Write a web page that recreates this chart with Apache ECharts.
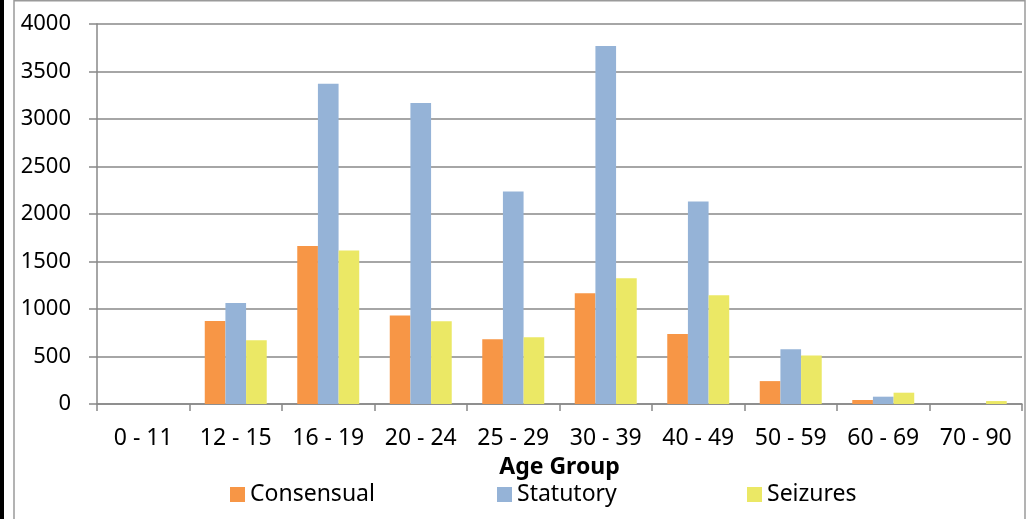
<!DOCTYPE html>
<html>
<head>
<meta charset="utf-8">
<script src="https://cdn.jsdelivr.net/npm/echarts@6/dist/echarts.min.js"></script>
<style>
  html, body { margin: 0; padding: 0; background: #ffffff; }
  #chart { width: 1031px; height: 519px; }
</style>
</head>
<body>
<div id="chart"></div>
<script>
// Age groups along the category axis
const ageGroups = ['0 - 11', '12 - 15', '16 - 19', '20 - 24', '25 - 29', '30 - 39', '40 - 49', '50 - 59', '60 - 69', '70 - 90'];

// Counts per age group
const consensual = [0, 875, 1662, 931, 682, 1165, 738, 241, 42, 0];
const statutory  = [0, 1062, 3370, 3168, 2236, 3769, 2131, 577, 77, 0];
const seizures   = [0, 672, 1617, 871, 703, 1323, 1144, 511, 119, 31];

const yTicks = [0, 500, 1000, 1500, 2000, 2500, 3000, 3500, 4000];

const FONT = '"Noto Sans", "Liberation Sans", sans-serif';
const GRID_GREY = '#888888';

const seriesDefs = [
  { name: 'Consensual', data: consensual, color: '#F79646', legendLeft: 230 },
  { name: 'Statutory',  data: statutory,  color: '#95B3D7', legendLeft: 497 },
  { name: 'Seizures',   data: seizures,   color: '#EBE865', legendLeft: 747 }
];

const chart = echarts.init(document.getElementById('chart'), null, { renderer: 'canvas' });

chart.setOption({
  animation: false,
  backgroundColor: '#ffffff',
  textStyle: { fontFamily: FONT },
  graphic: [
    { type: 'rect', left: 0, top: 0, shape: { width: 4, height: 519 }, style: { fill: '#000000' }, silent: true },
    { type: 'rect', shape: { x: 14, y: 0.75, width: 1011, height: 520 }, style: { fill: 'none', stroke: '#9a9a9a', lineWidth: 1.5 }, silent: true }
  ],
  grid: { left: 97, right: 9, top: 24, bottom: 115, containLabel: false },
  // one legend block per series so each entry sits at its own spot
  legend: seriesDefs.map(s => ({
    left: s.legendLeft,
    top: 483,
    padding: 0,
    itemWidth: 15,
    itemHeight: 15,
    itemGap: 5,
    icon: 'rect',
    textStyle: { fontFamily: FONT, fontSize: 23, color: '#000000' },
    data: [s.name]
  })),
  xAxis: {
    type: 'category',
    data: ageGroups,
    name: 'Age Group',
    nameLocation: 'middle',
    nameGap: 52,
    nameTextStyle: { fontFamily: FONT, fontSize: 23, fontWeight: 'bold', color: '#000000' },
    axisLine: { show: true, lineStyle: { color: GRID_GREY, width: 1.5 } },
    axisTick: { show: true, length: 7, alignWithLabel: false, lineStyle: { color: GRID_GREY, width: 1.5 } },
    axisLabel: { fontFamily: FONT, fontSize: 23, color: '#000000', margin: 23, interval: 0 },
    splitLine: { show: false }
  },
  yAxis: {
    type: 'value',
    min: yTicks[0],
    max: yTicks[yTicks.length - 1],
    interval: yTicks[1] - yTicks[0],
    axisLine: { show: true, lineStyle: { color: GRID_GREY, width: 1.5 } },
    axisTick: { show: true, length: 8, lineStyle: { color: GRID_GREY, width: 1.5 } },
    axisLabel: { fontFamily: FONT, fontSize: 22, color: '#000000', margin: 26, formatter: v => String(v) },
    splitLine: { show: true, lineStyle: { color: GRID_GREY, width: 1.5 } }
  },
  series: seriesDefs.map(s => ({
    name: s.name,
    type: 'bar',
    data: s.data,
    barGap: '0%',
    barCategoryGap: '33%',
    itemStyle: { color: s.color }
  }))
});
</script>
</body>
</html>
